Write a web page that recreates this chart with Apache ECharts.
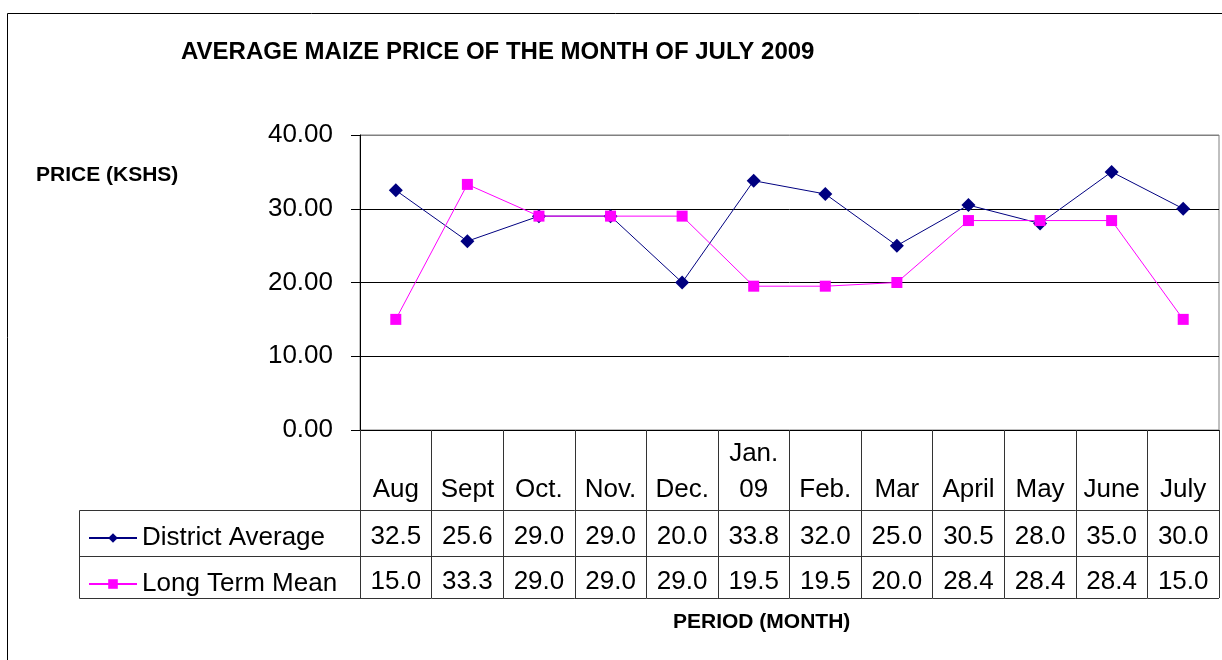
<!DOCTYPE html>
<html>
<head>
<meta charset="utf-8">
<script src="https://cdn.jsdelivr.net/npm/echarts@6/dist/echarts.min.js"></script>
<style>html,body{margin:0;padding:0;background:#fff}#c{width:1222px;height:660px}</style>
</head>
<body>
<div id="c"></div>
<script>
const categories = ['Aug', 'Sept', 'Oct.', 'Nov.', 'Dec.', 'Jan.\n09', 'Feb.', 'Mar', 'April', 'May', 'June', 'July'];
const districtAverage = [32.5, 25.6, 29.0, 29.0, 20.0, 33.8, 32.0, 25.0, 30.5, 28.0, 35.0, 30.0];
const longTermMean = [15.0, 33.3, 29.0, 29.0, 29.0, 19.5, 19.5, 20.0, 28.4, 28.4, 28.4, 15.0];
const seriesNames = ['District Average', 'Long Term Mean'];
const titleText = 'AVERAGE MAIZE PRICE OF THE MONTH OF JULY 2009';
const yName = 'PRICE (KSHS)';
const xName = 'PERIOD (MONTH)';

const FONT = '"Liberation Sans", Arial, sans-serif';
const chart = echarts.init(document.getElementById('c'), null, {renderer: 'canvas'});

function renderCell(params, api) {
  const i = api.value(0);
  const p = api.coord([i, 0]);
  const w = api.size([1, 0])[0];
  const x0 = p[0] - w / 2, y0 = p[1];
  const ls = {stroke: '#333', lineWidth: 1};
  const txt = (t, y, va) => ({
    type: 'text',
    style: {text: t, x: p[0], y: y, align: 'center', verticalAlign: va,
      fill: '#000', font: '26px ' + FONT, lineHeight: 36}
  });
  return {
    type: 'group',
    children: [
      txt(categories[i], y0 + 78, 'bottom'),
      txt(districtAverage[i].toFixed(1), y0 + 107, 'middle'),
      txt(longTermMean[i].toFixed(1), y0 + 152, 'middle'),
      {type: 'line', shape: {x1: x0, y1: y0 + 80.5, x2: x0 + w, y2: y0 + 80.5}, style: ls},
      {type: 'line', shape: {x1: x0, y1: y0 + 126.5, x2: x0 + w, y2: y0 + 126.5}, style: ls},
      {type: 'line', shape: {x1: x0, y1: y0 + 168.5, x2: x0 + w, y2: y0 + 168.5}, style: ls}
    ]
  };
}

chart.setOption({
  animation: false,
  textStyle: {fontFamily: FONT},
  title: [
    {text: titleText, left: 176, top: 35,
      textStyle: {fontSize: 24, fontWeight: 'bold', color: '#000', fontFamily: FONT}},
    {text: yName, left: 31, top: 160,
      textStyle: {fontSize: 21, fontWeight: 'bold', color: '#000', fontFamily: FONT}},
    {text: xName, left: 668, top: 607,
      textStyle: {fontSize: 21, fontWeight: 'bold', color: '#000', fontFamily: FONT}}
  ],
  legend: {
    data: seriesNames,
    orient: 'vertical',
    left: 83, top: 518,
    itemWidth: 48, itemHeight: 12, itemGap: 16,
    textStyle: {fontSize: 26, lineHeight: 30, color: '#000', fontFamily: FONT}
  },
  grid: {left: 360, right: 3, top: 135, bottom: 230, show: true,
    borderColor: '#808080', borderWidth: 1, backgroundColor: 'transparent'},
  xAxis: {
    type: 'category',
    data: categories,
    boundaryGap: true,
    axisLine: {show: true, lineStyle: {color: '#000', width: 1}},
    axisTick: {show: true, length: 168, lineStyle: {color: '#333', width: 1}},
    axisLabel: {show: false},
    splitLine: {show: false}
  },
  yAxis: {
    type: 'value',
    min: 0, max: 40, interval: 10,
    axisLine: {show: true, lineStyle: {color: '#000', width: 1}},
    axisTick: {show: true, length: 9, lineStyle: {color: '#000'}},
    axisLabel: {fontSize: 26, color: '#000', margin: 27, fontFamily: FONT,
      formatter: v => v.toFixed(2)},
    splitLine: {show: true, lineStyle: {color: ['#000', '#000', '#000', '#000', '#808080'], width: 1}}
  },
  graphic: [
    {type: 'rect', shape: {x: 7.5, y: 13.5, width: 1400, height: 800},
      style: {fill: 'none', stroke: '#000', lineWidth: 1}, silent: true, z: -10},
    {type: 'rect', shape: {x: 79.5, y: 510.5, width: 281, height: 88},
      style: {fill: 'none', stroke: '#333', lineWidth: 1}, silent: true},
    {type: 'line', shape: {x1: 79, y1: 556.5, x2: 360, y2: 556.5},
      style: {stroke: '#333', lineWidth: 1}, silent: true}
  ],
  series: [
    {
      name: seriesNames[0], type: 'line', data: districtAverage,
      symbol: 'diamond', symbolSize: 14,
      itemStyle: {color: '#000080'},
      lineStyle: {color: '#000080', width: 1},
      z: 3
    },
    {
      name: seriesNames[1], type: 'line', data: longTermMean,
      symbol: 'rect', symbolSize: 11,
      itemStyle: {color: '#FF00FF'},
      lineStyle: {color: '#FF00FF', width: 1},
      z: 4
    },
    {
      type: 'custom', name: 'table', silent: true, clip: false,
      data: categories.map((c, i) => [i, 0]),
      encode: {x: 0, y: 1},
      renderItem: renderCell,
      z: 1
    }
  ]
});
</script>
</body>
</html>
